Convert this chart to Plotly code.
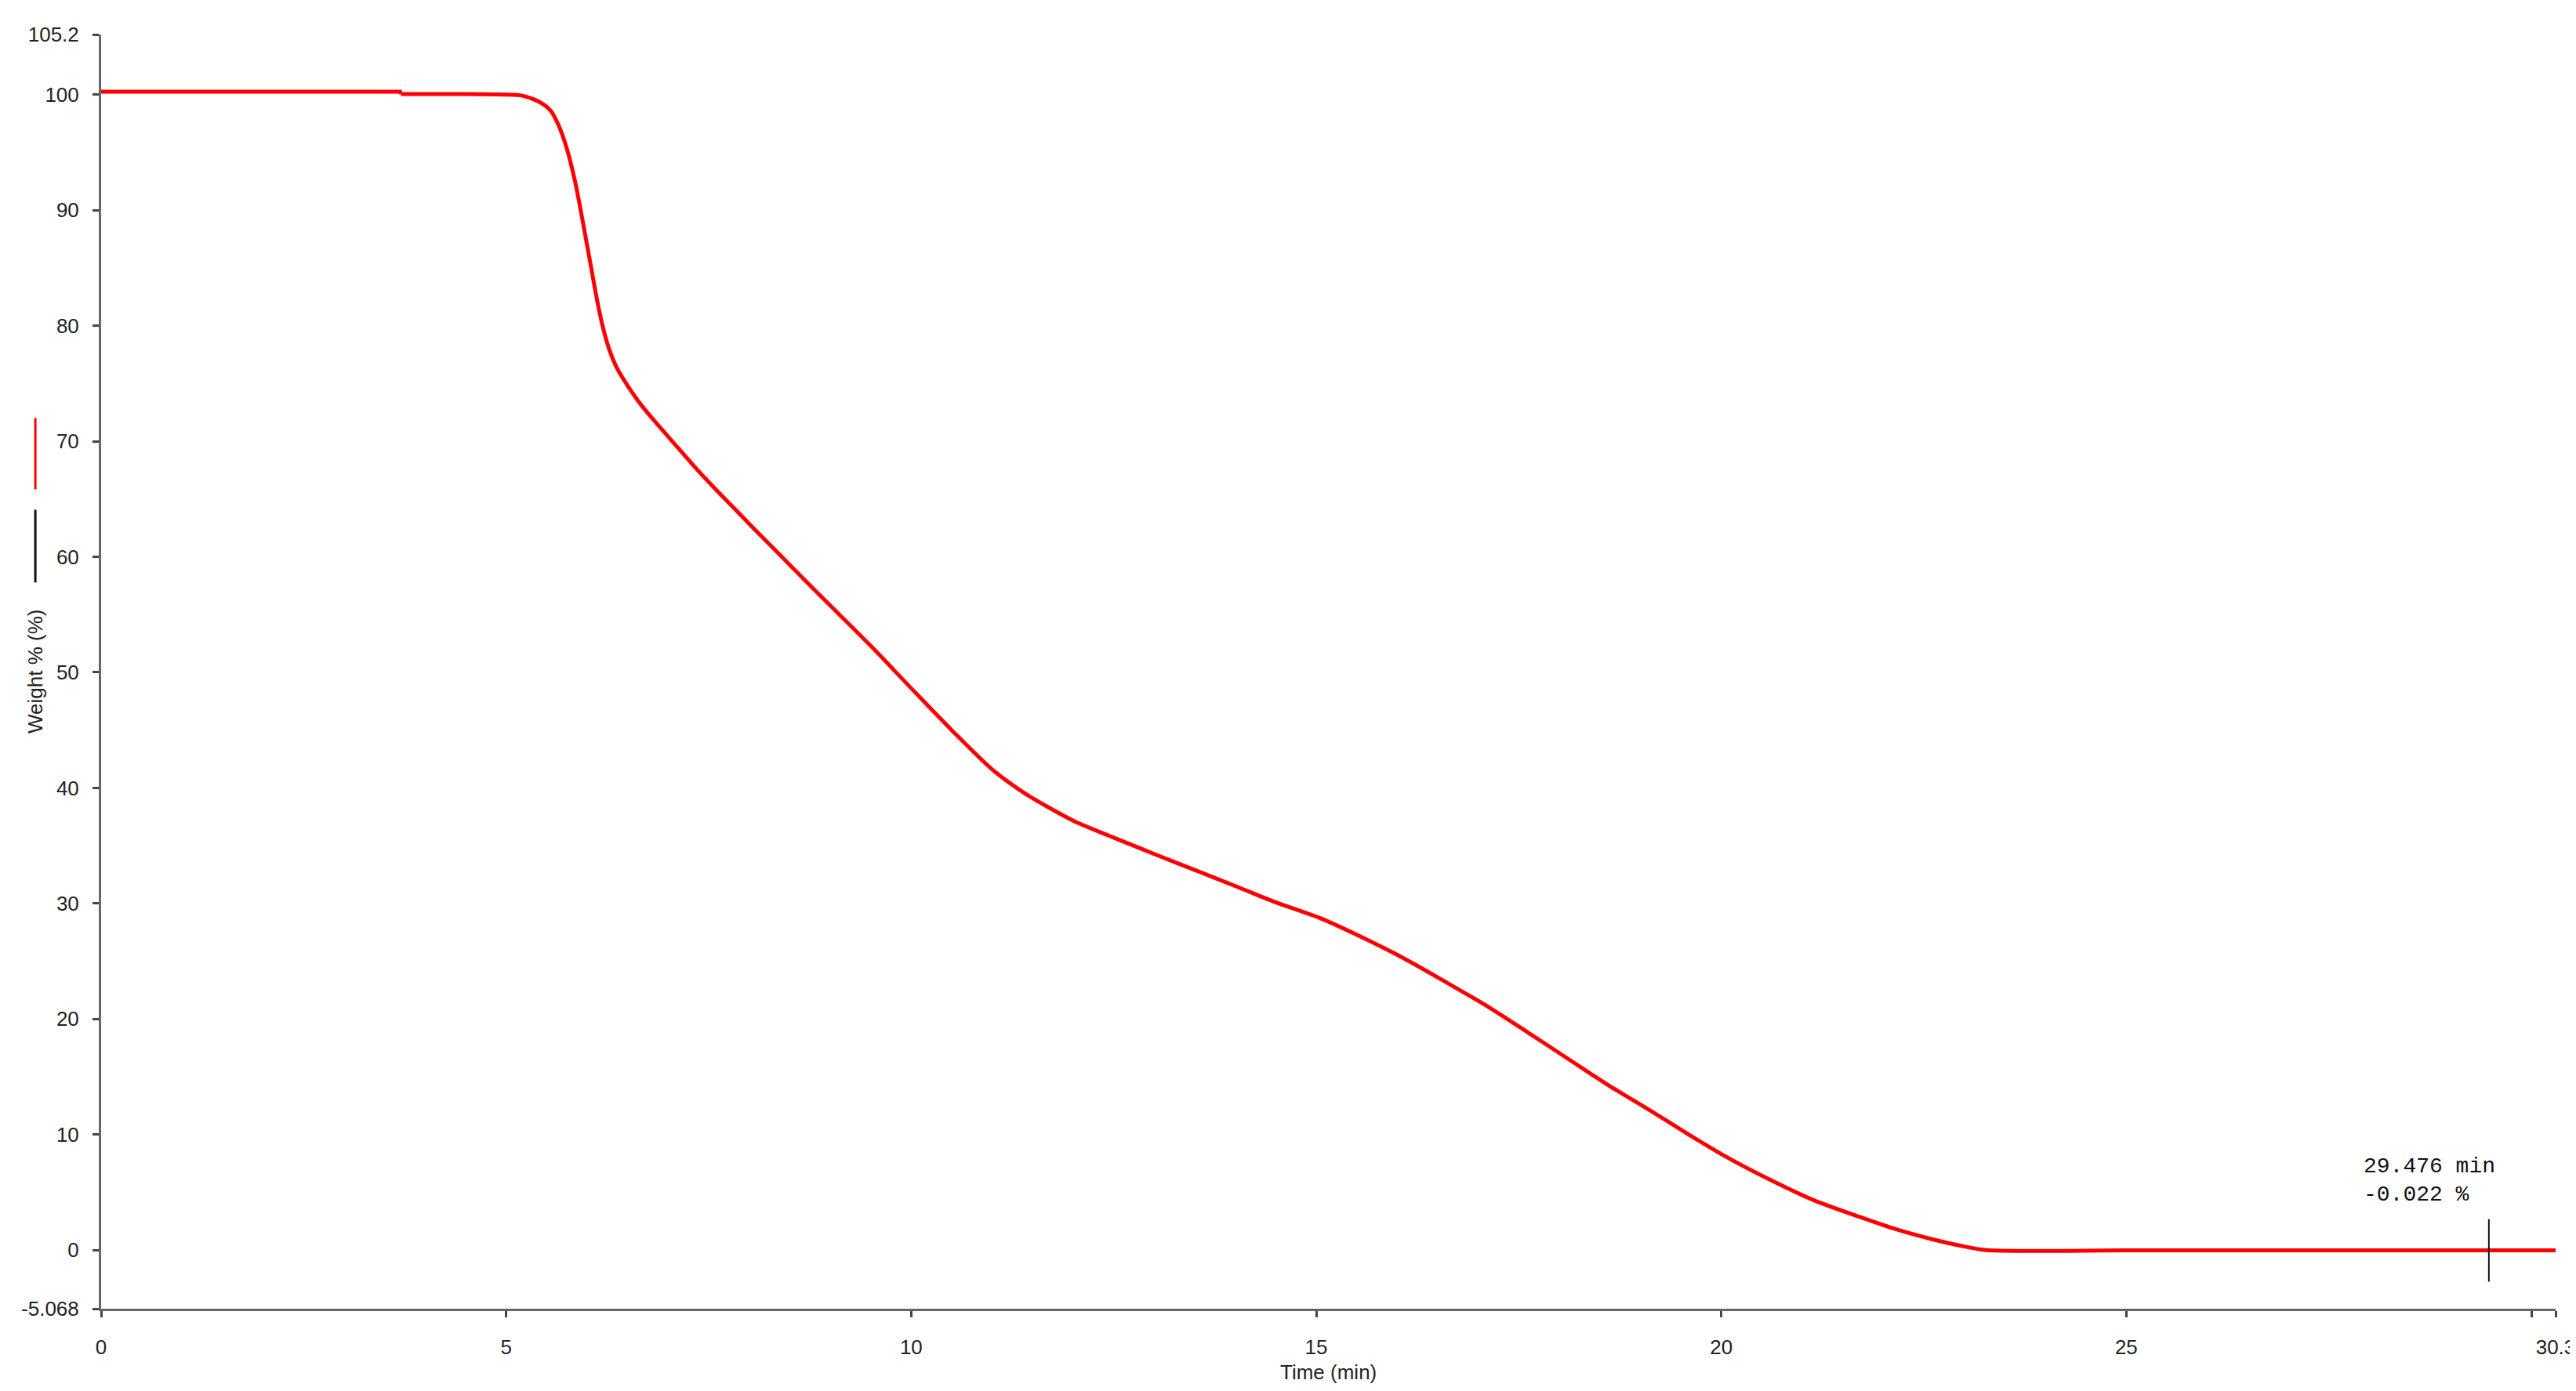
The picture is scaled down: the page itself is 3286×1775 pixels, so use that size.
"""TGA weight loss curve."""
import plotly.graph_objects as go

# time (min) and weight (%)
time_min = [0.0, 1.0, 2.0, 3.0, 3.69, 3.70, 4.5, 5.0, 5.2, 5.4, 5.55, 5.65,
            5.75, 5.85, 5.92, 6.05, 6.12, 6.19, 6.27, 6.37, 6.5, 6.66, 6.85,
            7.05, 7.3, 7.55, 7.8, 8.05, 8.36, 8.67, 8.97, 9.5, 9.99, 10.5,
            11.0, 11.41, 11.7, 12.02, 12.5, 13.03, 13.5, 14.04, 14.5, 15.06,
            15.5, 16.07, 16.6, 17.09, 17.6, 18.1, 18.6, 19.12, 19.6, 20.03,
            20.6, 21.15, 21.7, 22.16, 22.6, 22.98, 23.28, 25.0, 27.0, 29.476,
            30.3]
weight_pct = [100.25, 100.25, 100.25, 100.25, 100.25, 100.05, 100.05, 100.0,
              99.9, 99.4, 98.6, 97.3, 95.3, 92.5, 90.0, 85.0, 82.3, 80.0,
              78.0, 76.3, 74.8, 73.2, 71.6, 70.0, 68.0, 66.1, 64.3, 62.5,
              60.3, 58.1, 56.0, 52.3, 48.7, 45.0, 41.6, 39.5, 38.3, 37.1,
              35.7, 34.2, 32.9, 31.4, 30.1, 28.7, 27.3, 25.3, 23.2, 21.2,
              18.9, 16.6, 14.3, 12.1, 10.0, 8.2, 6.1, 4.3, 2.9, 1.8, 0.95,
              0.35, 0.0, -0.02, -0.02, -0.022, -0.022]

cursor_x = [29.476]
cursor_y = [-0.022]

y_ticks = [-5.068, 0, 10, 20, 30, 40, 50, 60, 70, 80, 90, 100, 105.2]
y_labels = ['-5.068', '0', '10', '20', '30', '40', '50', '60', '70', '80',
            '90', '100', '105.2']
x_ticks = [0, 5, 10, 15, 20, 25, 30, 30.3]
x_labels = ['0', '5', '10', '15', '20', '25', '', '30.3']

tick_font = dict(family='Liberation Sans, Arial', size=26, color='#222')

# the tiny balance step at 3.7 min is drawn straight, the rest smoothed
step = time_min.index(3.70)

fig = go.Figure()
fig.add_trace(go.Scatter(
    x=time_min[:step + 1], y=weight_pct[:step + 1], mode='lines',
    line=dict(color='#ff0000', width=5),
    showlegend=False, hoverinfo='skip'))
fig.add_trace(go.Scatter(
    x=time_min[step:], y=weight_pct[step:], mode='lines',
    line=dict(color='#ff0000', width=5, shape='spline', smoothing=0.8),
    showlegend=False, hoverinfo='skip'))
fig.add_trace(go.Scatter(
    x=cursor_x, y=cursor_y, mode='markers',
    marker=dict(symbol='line-ns-open', size=57, color='#111',
                line=dict(color='#111', width=2)),
    showlegend=False, hoverinfo='skip'))

axis_common = dict(
    showgrid=False, zeroline=False, showline=True, linecolor='#666',
    linewidth=3, ticks='outside', ticklen=8, tickwidth=3, tickcolor='#444',
    tickfont=tick_font, automargin=False)

fig.update_xaxes(range=[0, 30.3], tickmode='array', tickvals=x_ticks,
                 ticktext=x_labels, ticklabelstandoff=16, **axis_common)
fig.update_yaxes(range=[-5.068, 105.2], tickmode='array', tickvals=y_ticks,
                 ticktext=y_labels, ticklabelstandoff=12, **axis_common)

annotations = [
    dict(text='Time (min)', xref='paper', yref='paper', x=0.5, y=0,
         yshift=-81, showarrow=False, yanchor='middle',
         font=dict(family='Liberation Sans, Arial', size=26, color='#222')),
    dict(text='Weight % (%)', xref='paper', yref='paper', x=0, y=0.5,
         xshift=-84, showarrow=False, textangle=-90, xanchor='center',
         font=dict(family='Liberation Sans, Arial', size=26, color='#222')),
    dict(text='%.3f min<br>%.3f %%' % (cursor_x[0], cursor_y[0]),
         x=cursor_x[0], y=cursor_y[0], xanchor='left', yanchor='bottom',
         xshift=-162, yshift=54, showarrow=False, align='left',
         font=dict(family='Liberation Mono, Courier New', size=28,
                   color='#111')),
]

# little series markers next to the y axis title
shapes = [
    dict(type='line', xref='paper', yref='paper', x0=-0.0268, x1=-0.0268,
         y0=0.643, y1=0.699, line=dict(color='#ff0000', width=3)),
    dict(type='line', xref='paper', yref='paper', x0=-0.0268, x1=-0.0268,
         y0=0.570, y1=0.627, line=dict(color='#111', width=3)),
]

fig.update_layout(
    width=3286, height=1775,
    margin=dict(l=121, r=34, t=36, b=113),
    plot_bgcolor='white', paper_bgcolor='white',
    annotations=annotations, shapes=shapes)

fig.write_html('out.html')
